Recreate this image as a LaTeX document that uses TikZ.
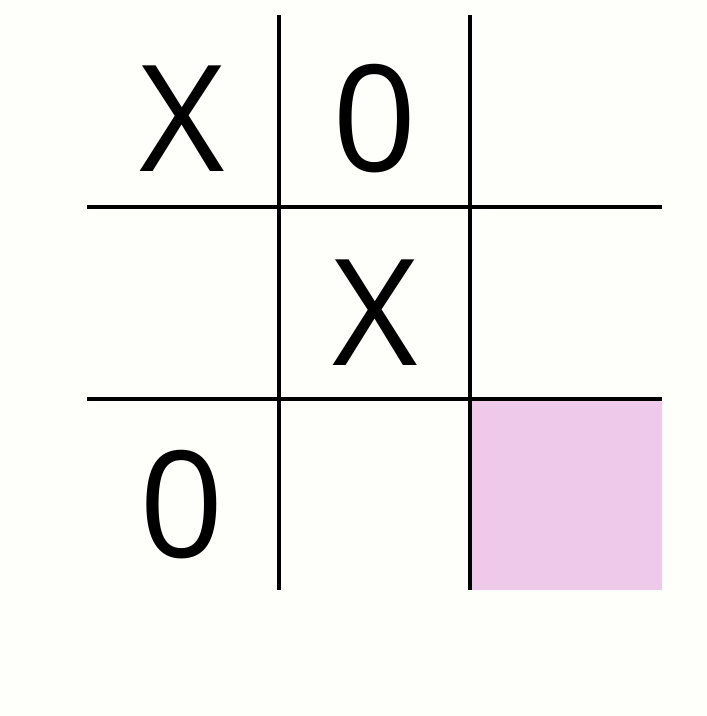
\documentclass[tikz,border=0pt]{standalone}
\usepackage{fontspec}
\setmainfont{Open Sans}
\definecolor{bg}{HTML}{FEFEFB}
\definecolor{cellpink}{HTML}{EFC9E9}
\tikzset{
  gridline/.style={line width=3.3pt, black},
  glyph/.style={anchor=base, inner sep=0pt, font=\fontsize{148}{148}\selectfont}
}
\begin{document}
\begin{tikzpicture}[x=1pt,y=-1pt]
  \fill[bg] (0,0) rectangle (707,716);
  \useasboundingbox (0,0) rectangle (707,716);
  \fill[cellpink] (471,400) rectangle (662,590);
  \draw[gridline] (279,15) -- (279,590);
  \draw[gridline] (470,15) -- (470,590);
  \draw[gridline] (87,207) -- (662,207);
  \draw[gridline] (87,399) -- (662,399);
  \node[glyph] (x1) at (182,171) {X};
  \node[glyph] (o1) at (375,171) {0};
  \node[glyph] (x2) at (375,365) {X};
  \node[glyph] (o2) at (182,557) {0};
\end{tikzpicture}
\end{document}
